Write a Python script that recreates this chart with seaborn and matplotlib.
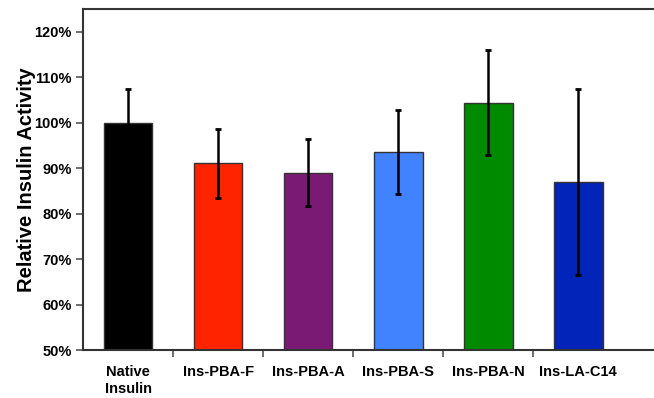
import numpy as np
import pandas as pd
import matplotlib
matplotlib.use("Agg")
import matplotlib.pyplot as plt
import seaborn as sns
from matplotlib.ticker import FixedLocator, PercentFormatter


# ============================================================
# DATA
# ============================================================
samples = ["Native\nInsulin", "Ins-PBA-F", "Ins-PBA-A", "Ins-PBA-S", "Ins-PBA-N", "Ins-LA-C14"]
activity = [100.0, 91.1, 89.0, 93.6, 104.4, 87.0]
errors = [7.4, 7.6, 7.3, 9.2, 11.6, 20.5]
bar_colors = ["#000000", "#FF2400", "#7A1A74", "#4182FF", "#008A00", "#0224B8"]

df = pd.DataFrame({"sample": samples, "activity": activity})

# ============================================================
# PLOT
# ============================================================
sns.set_style("white")
plt.rcParams["font.family"] = ["Liberation Sans", "DejaVu Sans"]

fig = plt.figure(figsize=(6.54, 3.98), dpi=100)
ax = fig.add_axes([83 / 654, 48 / 398, 1 - 83 / 654, 341 / 398])

sns.barplot(data=df, x="sample", y="activity", hue="sample",
            palette=bar_colors, saturation=1, width=0.54, edgecolor="#333333",
            linewidth=1.0, legend=False, ax=ax)

ax.errorbar(np.arange(len(samples)), activity, yerr=errors, fmt="none",
            ecolor="black", elinewidth=1.8, capsize=2.3, capthick=2)

ax.set_ylim(50, 125)
ax.set_xlim(-0.5, 5.84)
ax.yaxis.set_major_locator(FixedLocator(np.arange(50, 121, 10)))
ax.yaxis.set_major_formatter(PercentFormatter(decimals=0))

# category boundaries as tick marks
ax.set_xticks(np.arange(len(samples)))
ax.set_xticklabels(samples, fontweight="bold", fontsize=10.5, linespacing=1.25, color="black")
ax.set_xticks(np.arange(0.5, len(samples) - 0.5, 1), minor=True)
ax.tick_params(axis="x", which="major", bottom=True, length=0, pad=11)
ax.tick_params(axis="x", which="minor", bottom=True, length=5, width=1.2,
               color="#555555", direction="out")
ax.tick_params(axis="y", left=True, length=5, width=1.2, color="#555555",
               direction="out", pad=3, labelcolor="black")
for lab in ax.get_yticklabels():
    lab.set_fontweight("bold")
    lab.set_fontsize(10.5)

ax.set_xlabel("")
ax.set_ylabel("Relative Insulin Activity", fontsize=14.5, fontweight="bold",
              labelpad=-1, color="black")

for s in ["left", "top", "bottom"]:
    ax.spines[s].set_visible(True)
    ax.spines[s].set_linewidth(1.5)
    ax.spines[s].set_color("#333333")
ax.spines["right"].set_visible(False)

fig.savefig("out.png", dpi=100)
